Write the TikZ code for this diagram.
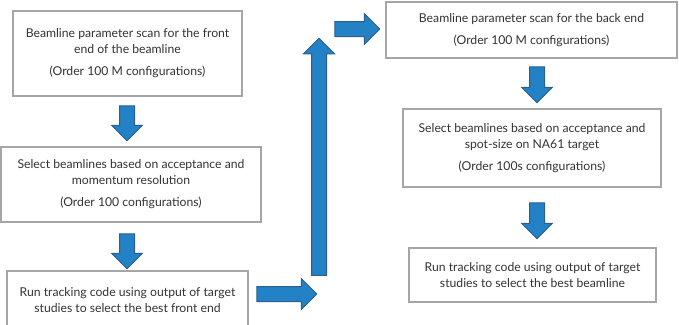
\documentclass[tikz,border=0pt]{standalone}
\usepackage{fontspec}
\setmainfont{Lato}
\usetikzlibrary{shapes.arrows}
\definecolor{boxgray}{HTML}{A6A6A6}
\definecolor{txtgray}{HTML}{333333}
\definecolor{arrowblue}{HTML}{2381C6}
\definecolor{arrowedge}{HTML}{2C5F8E}

\begin{document}
\begin{tikzpicture}[x=1pt, y=-1pt,
        stage/.style={draw=boxgray, line width=2pt, fill=white, inner sep=0pt,
            align=center, text=txtgray, font=\fontsize{12.2}{16}\selectfont},
        blockarrow/.style={single arrow, draw=arrowedge, fill=arrowblue, line width=1pt,
            inner xsep=0pt, inner ysep=7pt, single arrow head extend=8pt,
            single arrow tip angle=90, minimum height=#1}]
            \useasboundingbox (0,0) rectangle (679,324);

            \node[stage, minimum width=229pt, minimum height=85pt] (scanfront) at (127.5,53.5)
                {Beamline parameter scan for the front\\ end of the beamline\\[6pt] (Order 100 M configurations)};
            \node[stage, minimum width=260pt, minimum height=75pt] (selectfront) at (131,184.5)
                {Select beamlines based on acceptance and\\ momentum resolution\\[6pt] (Order 100 configurations)};
            \node[stage, minimum width=241pt, minimum height=59pt] (trackfront) at (127.5,300.5)
                {Run tracking code using output of target\\ studies to select the best front end};
            \node[stage, minimum width=291pt, minimum height=56pt] (scanback) at (531.5,30)
                {Beamline parameter scan for the back end\\[6pt] (Order 100 M configurations)};
            \node[stage, minimum width=258pt, minimum height=78pt] (selectback) at (532,148)
                {Select beamlines based on acceptance and\\ spot-size on NA61 target\\[6pt] (Order 100s configurations)};
            \node[stage, minimum width=247pt, minimum height=54pt] (trackback) at (532.5,275)
                {Run tracking code using output of target\\ studies to select the best beamline};

            \node[blockarrow=35pt, rotate=-90] (down1) at (127,119.5) {};
            \node[blockarrow=35pt, rotate=-90] (down2) at (127,247.5) {};
            \node[blockarrow=60pt] (across1) at (283,294) {};
            \node[blockarrow=237pt, rotate=90] (up) at (319,160.5) {};
            \node[blockarrow=45pt] (across2) at (353.5,29) {};
            \node[blockarrow=36pt, rotate=-90] (down3) at (537,81) {};
            \node[blockarrow=36pt, rotate=-90] (down4) at (537,217) {};
\end{tikzpicture}
\end{document}
